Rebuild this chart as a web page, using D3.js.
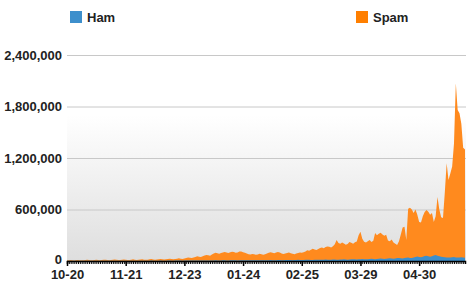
<!DOCTYPE html>
<html>
<head>
<meta charset="utf-8">
<script src="https://cdn.jsdelivr.net/npm/d3@7"></script>
<style>
body { margin: 0; background: #fff; }
text { font-family: "Liberation Sans", Arial, sans-serif; font-weight: bold; fill: #222; }
</style>
</head>
<body>
<svg></svg>
<script>
var width = 470;
var height = 286;
var margin = { top: 55, bottom: 25, left: 67, right: 4 };

var startDate = new Date(2008, 9, 20);
var seriesNames = ['Ham', 'Spam'];
var seriesColors = ['#3d8fcc', '#ff8a1e'];
var yTicks = [0, 600000, 1200000, 1800000, 2400000];
var xTickLabels = ['10-20', '11-21', '12-23', '01-24', '02-25', '03-29', '04-30'];

// daily spam counts (thousands), from 10-20
var spam = [
	8, 10, 12, 9, 7, 11, 13, 10, 8, 9,
	12, 14, 11, 9, 10, 13, 15, 12, 10, 11,
	14, 16, 13, 10, 12, 15, 17, 14, 11, 12,
	15, 18, 14, 12, 13, 16, 19, 15, 13, 14,
	17, 20, 16, 14, 15, 19, 22, 18, 16, 17,
	21, 24, 19, 17, 19, 23, 27, 22, 20, 22,
	27, 31, 26, 24, 30, 36, 42, 38, 35, 40,
	48, 55, 50, 46, 55, 63, 70, 66, 62, 75,
	88, 95, 90, 84, 92, 100, 106, 98, 94, 102,
	108, 104, 97, 100, 110, 112, 103, 95, 88, 80,
	75, 82, 78, 72, 76, 84, 80, 74, 79, 88,
	95, 102, 96, 90, 98, 105, 100, 88, 82, 86,
	92, 98, 90, 84, 80, 86, 94, 100, 96, 102,
	112, 125, 118, 130, 142, 135, 128, 140, 152, 158,
	150, 162, 170, 165, 158, 172, 195, 245, 210, 200,
	215, 205, 190, 198, 220, 212, 200, 218, 226, 300,
	340, 260, 225, 215, 230, 245, 220, 235, 325, 300,
	318, 330, 310, 295, 305, 240, 230, 250, 215, 200,
	185, 230, 310, 390, 400, 245, 610, 620, 600, 560,
	600, 540, 455, 450, 520, 570, 595, 575, 540, 560,
	455, 520, 745, 600, 510, 500, 800, 1140, 945, 1020,
	1100, 1370, 2070, 1760, 1720, 1600, 1320, 1300
];

// daily ham counts (thousands)
var ham = [
	2, 2, 3, 2, 2, 3, 3, 2, 2, 3,
	3, 3, 2, 2, 3, 3, 3, 2, 2, 3,
	3, 4, 3, 2, 3, 3, 4, 3, 2, 3,
	3, 4, 3, 3, 3, 4, 4, 3, 3, 3,
	4, 4, 3, 3, 4, 4, 5, 4, 3, 4,
	4, 5, 4, 4, 4, 5, 5, 4, 4, 5,
	5, 6, 5, 4, 5, 6, 6, 5, 5, 6,
	6, 7, 6, 5, 6, 7, 7, 6, 6, 7,
	7, 8, 7, 6, 7, 8, 8, 7, 7, 8,
	8, 9, 8, 7, 8, 9, 9, 8, 8, 9,
	9, 10, 9, 8, 9, 10, 10, 9, 9, 10,
	10, 11, 10, 9, 10, 12, 12, 10, 10, 11,
	12, 13, 12, 10, 11, 13, 14, 12, 12, 13,
	14, 15, 14, 12, 13, 15, 16, 14, 14, 15,
	16, 17, 16, 14, 15, 17, 18, 16, 16, 17,
	18, 20, 18, 16, 17, 20, 21, 19, 18, 20,
	21, 23, 21, 19, 20, 23, 25, 22, 21, 23,
	25, 28, 26, 23, 25, 30, 32, 28, 26, 30,
	34, 36, 32, 30, 34, 38, 40, 36, 35, 42,
	48, 52, 46, 44, 50, 58, 62, 55, 50, 56,
	64, 70, 62, 55, 50, 48, 45, 42, 40, 42,
	44, 46, 42, 40, 42, 44, 40, 38
];

var days = spam.map(function(d, i) { return d3.timeDay.offset(startDate, i); });
var data = days.map(function(d, i) {
	return { date: d, ham: ham[i] * 1000, spam: spam[i] * 1000 };
});

var svg = d3.select('svg')
	.attr('width', width)
	.attr('height', height);

var innerW = width - margin.left - margin.right;
var innerH = height - margin.top - margin.bottom;

var x = d3.scaleTime()
	.domain([startDate, days[days.length - 1]])
	.range([0, innerW - 1]);

var y = d3.scaleLinear()
	.domain([0, 2400000])
	.range([innerH, 0]);

var defs = svg.append('defs');
var grad = defs.append('linearGradient')
	.attr('id', 'bg')
	.attr('x1', 0).attr('y1', 0).attr('x2', 0).attr('y2', 1);
grad.append('stop').attr('offset', '0%').attr('stop-color', '#ffffff');
grad.append('stop').attr('offset', '100%').attr('stop-color', '#dedede');

var g = svg.append('g')
	.attr('transform', `translate(${margin.left},${margin.top})`);

// gradient panel
g.append('rect')
	.attr('x', 0)
	.attr('y', y(1700000))
	.attr('width', innerW)
	.attr('height', innerH - y(1700000))
	.attr('fill', 'url(#bg)');

// gridlines
g.selectAll('.grid')
	.data(yTicks.slice(1))
	.enter().append('line')
	.attr('x1', 0)
	.attr('x2', innerW)
	.attr('y1', function(d) { return y(d) + 0.5; })
	.attr('y2', function(d) { return y(d) + 0.5; })
	.attr('stroke', '#c8c8c8')
	.attr('stroke-width', 1);

var spamArea = d3.area()
	.x(function(d) { return x(d.date); })
	.y0(y(0))
	.y1(function(d) { return y(d.spam); });

var hamArea = d3.area()
	.x(function(d) { return x(d.date); })
	.y0(y(0))
	.y1(function(d) { return y(d.ham); });

g.append('path')
	.attr('d', spamArea(data))
	.attr('fill', seriesColors[1]);

g.append('path')
	.attr('d', hamArea(data))
	.attr('fill', seriesColors[0]);

// y axis labels
var yAxis = d3.axisLeft(y)
	.tickValues(yTicks)
	.tickSize(0)
	.tickPadding(5)
	.tickFormat(d3.format(','));

g.append('g')
	.call(yAxis)
	.call(function(s) { s.select('.domain').remove(); })
	.selectAll('text')
	.style('font-size', '13px')
	.attr('dy', function(d) { return d === 0 ? '0.2em' : '0.32em'; });

// x axis: daily minor ticks
var xMinor = d3.axisBottom(x)
	.ticks(d3.timeDay.every(1))
	.tickSize(3)
	.tickFormat('');

g.append('g')
	.attr('transform', `translate(0,${innerH})`)
	.call(xMinor)
	.call(function(s) {
		s.select('.domain').attr('stroke', '#000').attr('stroke-width', 1.5);
		s.selectAll('line').attr('stroke', '#000');
	});

var majorDates = xTickLabels.map(function(t, i) { return d3.timeDay.offset(startDate, i * 32); });

var xAxis = d3.axisBottom(x)
	.tickValues(majorDates)
	.tickSize(5)
	.tickPadding(4)
	.tickFormat(function(d, i) { return xTickLabels[i]; });

g.append('g')
	.attr('transform', `translate(0,${innerH})`)
	.call(xAxis)
	.call(function(s) {
		s.select('.domain').remove();
		s.selectAll('line').attr('stroke', '#000').attr('stroke-width', 1.5);
	})
	.selectAll('text')
	.style('font-size', '13px');

// legend
var legendX = [70, 356];
var legend = svg.selectAll('.legend')
	.data(seriesNames)
	.enter().append('g')
	.attr('transform', function(d, i) { return `translate(${legendX[i]},11)`; });

legend.append('rect')
	.attr('width', 12)
	.attr('height', 12)
	.attr('fill', function(d, i) { return i === 0 ? '#3d8fcc' : '#ff7f00'; });

legend.append('text')
	.attr('x', 17)
	.attr('y', 11)
	.style('font-size', '13px')
	.text(function(d) { return d; });
</script>
</body>
</html>
